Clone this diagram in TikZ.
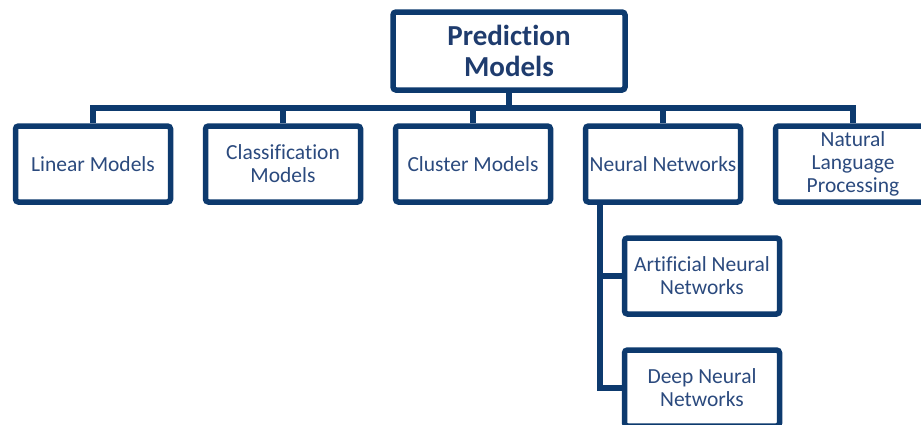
\documentclass[tikz,border=0pt]{standalone}
\usepackage{fontspec}
\setmainfont{Carlito}[Ligatures=NoCommon]
\usepackage{xcolor}
\usepackage{tikz}

\definecolor{navyline}{HTML}{0D3A6E}
\definecolor{navytext}{HTML}{2B4A7E}
\definecolor{titletext}{HTML}{1F3C6E}

\tikzset{
  modelbox/.style={draw=navyline, line width=5.5pt, rounded corners=3pt, fill=white,
    minimum width=155pt, minimum height=76pt, inner sep=2pt, align=center,
    text=navytext, font=\fontsize{21.5}{23}\selectfont},
  rootbox/.style={modelbox, minimum width=232pt, minimum height=78pt,
    text=titletext, font=\fontsize{29}{31}\selectfont\bfseries},
  tree/.style={draw=navyline, line width=5.5pt}
}

\begin{document}
\begin{tikzpicture}[x=1pt, y=-1pt]
    \useasboundingbox (0,0) rectangle (921,424);
    \clip (0,0) rectangle (921,424);

    \node[rootbox] (pm) at (509,51) {Prediction\\Models};

    \node[modelbox] (lin) at (93,164) {Linear Models};
    \node[modelbox] (cls) at (283,164) {Classification\\Models};
    \node[modelbox] (clu) at (473,164) {Cluster Models};
    \node[modelbox] (nn)  at (663,164) {Neural Networks};
    \node[modelbox] (nlp) at (853,164) {Natural\\Language\\Processing};

    \node[modelbox] (ann) at (702,276) {Artificial Neural\\Networks};
    \node[modelbox] (dnn) at (702,388) {Deep Neural\\Networks};

    \coordinate (bus) at (509,108);
    \coordinate (trunk) at (600,205);

    \draw[tree] (pm.south) -- (bus);
    \foreach \kid in {lin,cls,clu,nn,nlp}
      \draw[tree] (bus) -| (\kid.north);
    \draw[tree] (trunk) |- (ann.west);
    \draw[tree] (trunk) |- (dnn.west);
\end{tikzpicture}
\end{document}
